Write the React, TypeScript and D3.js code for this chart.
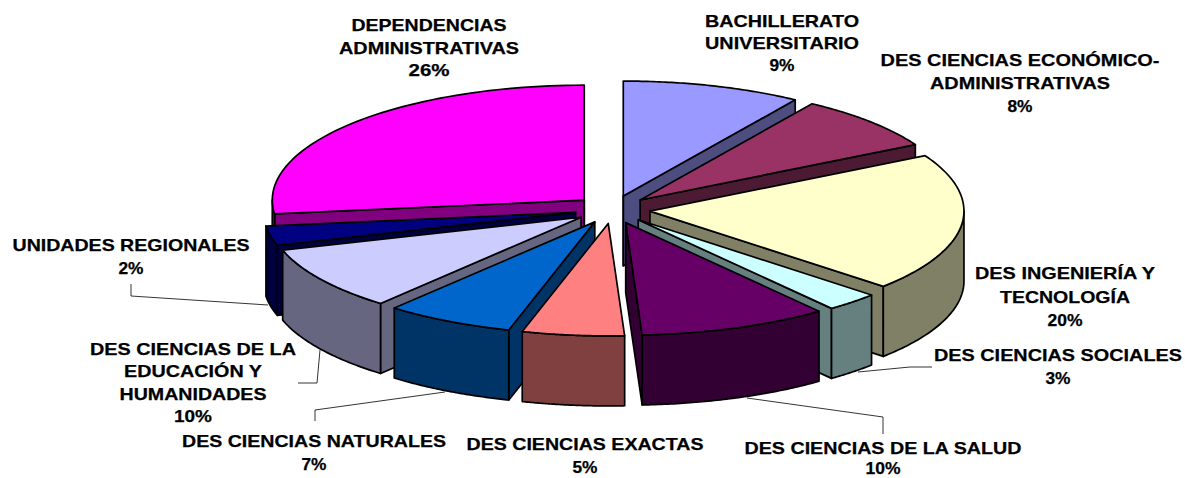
import React from "react";
import * as d3 from "d3";

// Categories in clockwise order from twelve o'clock
const categories = [
  "BACHILLERATO UNIVERSITARIO",
  "DES CIENCIAS ECONÓMICO-ADMINISTRATIVAS",
  "DES INGENIERÍA Y TECNOLOGÍA",
  "DES CIENCIAS SOCIALES",
  "DES CIENCIAS DE LA SALUD",
  "DES CIENCIAS EXACTAS",
  "DES CIENCIAS NATURALES",
  "DES CIENCIAS DE LA EDUCACIÓN Y HUMANIDADES",
  "UNIDADES REGIONALES",
  "DEPENDENCIAS ADMINISTRATIVAS",
];
const percentLabels = [9, 8, 20, 3, 10, 5, 7, 10, 2, 26];
// Angular share as drawn (the reference's 3-D view distorts the slices), in degrees
const drawnDegrees = [33.2, 28, 70.8, 10, 35, 19, 24, 33, 10, 97];
const topColors = ["#9999FF", "#993366", "#FFFFCC", "#CCFFFF", "#660066", "#FF8080", "#0066CC", "#CCCCFF", "#000080", "#FF00FF"];
const sideColors = ["#4D4D80", "#4D1A33", "#808066", "#668080", "#330033", "#804040", "#003366", "#666680", "#000040", "#800080"];

const labelLines: string[][] = [
  ["BACHILLERATO", "UNIVERSITARIO"],
  ["DES CIENCIAS ECONÓMICO-", "ADMINISTRATIVAS"],
  ["DES INGENIERÍA Y", "TECNOLOGÍA"],
  ["DES CIENCIAS SOCIALES"],
  ["DES CIENCIAS DE LA SALUD"],
  ["DES CIENCIAS EXACTAS"],
  ["DES CIENCIAS NATURALES"],
  ["DES CIENCIAS DE LA", "EDUCACIÓN Y", "HUMANIDADES"],
  ["UNIDADES REGIONALES"],
  ["DEPENDENCIAS", "ADMINISTRATIVAS"],
];
// layout of the labels: centre x, first baseline, spacing, line widths
const labelLayout: { x: number; y: number; dy: number; w: number[] }[] = [
  { x: 782, y: 27, dy: 22, w: [154, 154, 25] },
  { x: 1020, y: 66, dy: 23, w: [279, 180, 25] },
  { x: 1065, y: 279, dy: 23.5, w: [180, 130, 35] },
  { x: 1058, y: 361, dy: 23, w: [248, 25] },
  { x: 883, y: 454, dy: 20, w: [277, 35] },
  { x: 585, y: 450, dy: 23, w: [237, 25] },
  { x: 314, y: 447, dy: 23, w: [264, 25] },
  { x: 193, y: 355, dy: 22.4, w: [206, 138, 147, 38] },
  { x: 131, y: 251, dy: 23, w: [237, 25] },
  { x: 429, y: 31, dy: 22.5, w: [155, 180, 41] },
];
const leaders: ([number, number][] | null)[] = [
  null, null, null,
  [[932, 367], [910, 367], [858, 372]],
  [[883, 434], [883, 417], [747, 398]],
  null,
  [[315, 421], [315, 410], [445, 392]],
  [[298, 383], [317, 383], [320, 350]],
  [[131, 284], [131, 296], [268, 305]],
  null,
];

const W = 1185, H = 478;
const cx = 612.5, cy = 209.5, rxRight = 314, rxLeft = 312, ryBack = 115, ryFront = 112.5, depth = 70, ex = 37.7, ey = 14;

const pie = d3.pie<number>().sort(null).value((d) => d);
const arcs = pie(drawnDegrees);
const line = d3.line();

export default function App() {
  const slices = arcs.map((a, i) => {
    const mid = (a.startAngle + a.endAngle) / 2;
    const ax = cx + ex * Math.sin(mid);
    const ay = cy - ey * Math.cos(mid);
    const pt = (t: number, dz = 0): [number, number] => {
      const sn = Math.sin(t), cs = Math.cos(t);
      return [ax + (sn < 0 ? rxLeft : rxRight) * sn, ay - (cs < 0 ? ryFront : ryBack) * cs + dz];
    };
    const sample = (s: number, e: number, dz = 0) =>
      d3.range(0, 61).map((k) => pt(s + ((e - s) * k) / 60, dz));
    const apex: [number, number] = [ax, ay];
    const apexLow: [number, number] = [ax, ay + depth];
    const topPath = line([apex, ...sample(a.startAngle, a.endAngle)]) + "Z";
    const walls: string[] = [];
    const s = a.startAngle, e = a.endAngle;
    if (Math.sin(s) < 0) walls.push(line([apex, pt(s), pt(s, depth), apexLow])! + "Z");
    if (Math.sin(e) > 1e-6) walls.push(line([apex, pt(e), pt(e, depth), apexLow])! + "Z");
    if (Math.abs(Math.sin(e)) < 1e-6 || Math.abs(Math.sin(s)) < 1e-6) walls.push(line([apex, apexLow])!);
    const os = Math.max(s, Math.PI / 2), oe = Math.min(e, (3 * Math.PI) / 2);
    const outer = oe > os
      ? line([...sample(os, oe), ...sample(os, oe, depth).reverse()])! + "Z"
      : null;
    return { i, mid, topPath, walls, outer };
  });
  const order = [...slices].sort((p, q) => Math.cos(q.mid) - Math.cos(p.mid));
  const stroke = { stroke: "#000", strokeWidth: 1.7, strokeLinejoin: "round" as const };

  return (
    <svg width={W} height={H} style={{ position: "absolute", left: 0, top: 0, background: "#fff" }}>
      {leaders.map((l, i) => l && (
        <path key={i} d={line(l)!} fill="none" stroke="#000" strokeWidth={0.8} />
      ))}
      {order.map((s) => (
        <g key={s.i}>
          {s.walls.map((w, j) => <path key={j} d={w} fill={sideColors[s.i]} {...stroke} />)}
          {s.outer && <path d={s.outer} fill={sideColors[s.i]} {...stroke} />}
          <path d={s.topPath} fill={topColors[s.i]} {...stroke} />
        </g>
      ))}
      <g fontFamily="'Liberation Sans', Arial, sans-serif" fontWeight="bold" fontSize={17} fill="#000" stroke="#000" strokeWidth={0.25} textAnchor="middle">
        {categories.map((c, i) => {
          const lay = labelLayout[i];
          const rows = [...labelLines[i], `${percentLabels[i]}%`];
          return (
            <text key={c}>
              {rows.map((r, j) => (
                <tspan key={j} x={lay.x} y={lay.y + lay.dy * j} textLength={lay.w[j]} lengthAdjust="spacingAndGlyphs">{r}</tspan>
              ))}
            </text>
          );
        })}
      </g>
    </svg>
  );
}
